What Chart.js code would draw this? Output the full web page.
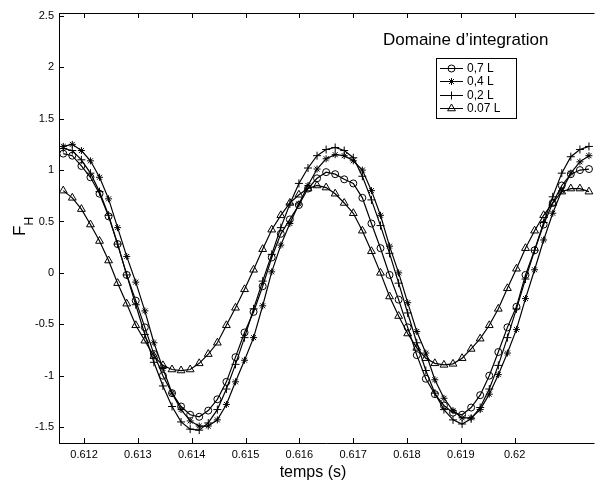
<!DOCTYPE html>
<html>
<head>
<meta charset="utf-8">
<script src="https://cdn.jsdelivr.net/npm/chart.js@4"></script>
<style>
  html, body { margin: 0; padding: 0; background: #fff; }
  canvas { display: block; }
</style>
</head>
<body>
<canvas id="myChart" width="600" height="482"></canvas>
<script>
// sample times (s)
const times = [
  0.611614, 0.611782, 0.611951, 0.612119, 0.612288, 0.612456, 0.612624, 0.612793, 0.612961, 0.613130,
  0.613298, 0.613466, 0.613635, 0.613803, 0.613972, 0.614140, 0.614308, 0.614477, 0.614645, 0.614814,
  0.614982, 0.615150, 0.615319, 0.615487, 0.615656, 0.615824, 0.615992, 0.616161, 0.616329, 0.616498,
  0.616666, 0.616834, 0.617003, 0.617171, 0.617340, 0.617508, 0.617676, 0.617845, 0.618013, 0.618182,
  0.618350, 0.618518, 0.618687, 0.618855, 0.619024, 0.619192, 0.619360, 0.619529, 0.619697, 0.619866,
  0.620034, 0.620202, 0.620371, 0.620539, 0.620708, 0.620876, 0.621044, 0.621213, 0.621381,
]

const seriesLabels = ['0,7 L', '0,4 L', '0,2 L', '0.07 L']

// F_H for each domain size
const fh07 = [
  1.16, 1.14, 1.04, 0.93, 0.77, 0.55, 0.28, -0.02, -0.27, -0.53,
  -0.79, -1.00, -1.17, -1.30, -1.38, -1.40, -1.34, -1.23, -1.06, -0.82,
  -0.58, -0.38, -0.13, 0.15, 0.38, 0.52, 0.66, 0.82, 0.92, 0.98,
  0.96, 0.91, 0.87, 0.73, 0.48, 0.24, -0.02, -0.26, -0.53, -0.80,
  -1.03, -1.18, -1.29, -1.36, -1.38, -1.31, -1.19, -1.00, -0.77, -0.53,
  -0.33, -0.02, 0.22, 0.47, 0.68, 0.85, 0.96, 1.00, 1.01,
]
const fh04 = [
  1.23, 1.25, 1.19, 1.09, 0.93, 0.72, 0.44, 0.16, -0.09, -0.37,
  -0.68, -0.93, -1.17, -1.33, -1.44, -1.49, -1.49, -1.43, -1.28, -1.06,
  -0.85, -0.63, -0.32, 0.01, 0.27, 0.48, 0.67, 0.85, 1.01, 1.11,
  1.15, 1.14, 1.09, 1.00, 0.80, 0.56, 0.26, 0.00, -0.29, -0.57,
  -0.78, -1.04, -1.22, -1.34, -1.41, -1.41, -1.33, -1.18, -0.99, -0.78,
  -0.55, -0.25, 0.03, 0.32, 0.58, 0.80, 0.97, 1.08, 1.14,
]
const fh02 = [
  1.21, 1.19, 1.10, 0.97, 0.79, 0.56, 0.28, -0.02, -0.31, -0.60,
  -0.87, -1.10, -1.30, -1.45, -1.52, -1.53, -1.46, -1.33, -1.13, -0.89,
  -0.63, -0.35, -0.08, 0.18, 0.44, 0.67, 0.87, 1.02, 1.14, 1.20,
  1.22, 1.19, 1.12, 0.94, 0.71, 0.46, 0.19, -0.10, -0.39, -0.68,
  -0.95, -1.17, -1.33, -1.43, -1.47, -1.42, -1.31, -1.13, -0.90, -0.63,
  -0.35, -0.06, 0.22, 0.49, 0.74, 0.97, 1.13, 1.20, 1.23,
]
const fh007 = [
  0.80, 0.73, 0.62, 0.47, 0.31, 0.12, -0.10, -0.30, -0.51, -0.66,
  -0.81, -0.90, -0.94, -0.95, -0.94, -0.88, -0.79, -0.68, -0.51, -0.34,
  -0.16, 0.03, 0.23, 0.42, 0.56, 0.68, 0.76, 0.82, 0.85, 0.83,
  0.77, 0.68, 0.58, 0.41, 0.21, 0.00, -0.23, -0.42, -0.59, -0.73,
  -0.83, -0.88, -0.895, -0.885, -0.83, -0.74, -0.64, -0.51, -0.35, -0.15,
  0.04, 0.24, 0.41, 0.56, 0.68, 0.79, 0.82, 0.82, 0.79,
]

const xTicks = [0.612, 0.613, 0.614, 0.615, 0.616, 0.617, 0.618, 0.619, 0.620]
const xTickLabels = ['0.612', '0.613', '0.614', '0.615', '0.616', '0.617', '0.618', '0.619', '0.62']
const yTicks = [-1.5, -1, -0.5, 0, 0.5, 1, 1.5, 2, 2.5]
const yTickLabels = ['-1.5', '-1', '-0.5', '0', '0.5', '1', '1.5', '2', '2.5']

const FONT = "'Liberation Sans', Arial, sans-serif"
const markers = ['circle', 'star', 'cross', 'triangle']
const radii = [3.5, 3.5, 4, 4.5]

const series = [fh07, fh04, fh02, fh007]
const datasets = series.map((vals, i) => ({
  label: seriesLabels[i],
  data: vals.map((v, j) => ({ x: times[j], y: v })),
  borderColor: '#000',
  borderWidth: 1.2,
  pointStyle: markers[i],
  pointRadius: radii[i],
  pointBorderWidth: 1,
  pointBorderColor: '#000',
  pointBackgroundColor: 'rgba(0,0,0,0)',
  tension: 0,
}))

const decorations = {
  id: 'decorations',
  afterDraw(chart) {
    const { ctx, chartArea: a, scales: { x, y } } = chart
    ctx.save()
    ctx.strokeStyle = '#000'
    ctx.fillStyle = '#000'
    ctx.lineWidth = 1
    // frame (right side is cut off)
    ctx.beginPath()
    ctx.moveTo(a.left + 0.5, a.top + 0.5)
    ctx.lineTo(a.right, a.top + 0.5)
    ctx.moveTo(a.left + 0.5, a.top)
    ctx.lineTo(a.left + 0.5, a.bottom + 0.5)
    ctx.moveTo(a.left, a.bottom + 0.5)
    ctx.lineTo(a.right, a.bottom + 0.5)
    // inward ticks
    x.ticks.forEach(t => {
      const px = Math.round(x.getPixelForValue(t.value)) + 0.5
      ctx.moveTo(px, a.bottom)
      ctx.lineTo(px, a.bottom - 5)
      ctx.moveTo(px, a.top)
      ctx.lineTo(px, a.top + 5)
    })
    y.ticks.forEach(t => {
      const py = Math.round(y.getPixelForValue(t.value)) + 0.5
      ctx.moveTo(a.left, py)
      ctx.lineTo(a.left + 5, py)
    })
    ctx.stroke()

    // axis titles
    ctx.font = '16px ' + FONT
    ctx.textAlign = 'center'
    ctx.textBaseline = 'alphabetic'
    ctx.fillText('temps (s)', 313, 477)

    ctx.save()
    ctx.translate(25, 236)
    ctx.rotate(-Math.PI / 2)
    ctx.textAlign = 'left'
    ctx.font = '17px ' + FONT
    ctx.fillText('F', 0, 0)
    const w = ctx.measureText('F').width
    ctx.font = '12px ' + FONT
    ctx.fillText('H', w, 8)
    ctx.restore()

    // legend title
    ctx.font = '17px ' + FONT
    ctx.textAlign = 'left'
    ctx.fillText('Domaine d\u2019integration', 383, 45)

    // legend box
    ctx.strokeRect(436.5, 58.5, 80, 60)
    ctx.font = '12px ' + FONT
    ctx.textBaseline = 'middle'
    chart.data.datasets.forEach((ds, i) => {
      const ly = Math.round(67.5 + i * 13.6) + 0.5
      ctx.beginPath()
      ctx.moveTo(440, ly)
      ctx.lineTo(463, ly)
      ctx.stroke()
      ctx.fillStyle = 'rgba(0,0,0,0)'
      Chart.helpers.drawPoint(ctx, {
        pointStyle: ds.pointStyle,
        radius: ds.pointRadius,
        rotation: 0,
        borderWidth: 1,
      }, 451.5, ly)
      ctx.fillStyle = '#000'
      ctx.fillText(ds.label, 467, ly)
    })
    ctx.restore()
  },
}

const ctx = document.getElementById('myChart').getContext('2d')
Chart.defaults.color = '#000'
Chart.defaults.font.family = FONT

new Chart(ctx, {
  type: 'line',
  data: { datasets },
  options: {
    responsive: false,
    animation: false,
    devicePixelRatio: 1,
    layout: { padding: { top: 13, right: 0, left: 0, bottom: 0 } },
    plugins: { legend: { display: false }, tooltip: { enabled: false } },
    scales: {
      x: {
        type: 'linear',
        min: 0.611535,
        max: 0.621484,
        grid: { display: false, drawTicks: false },
        border: { display: false },
        afterBuildTicks: s => { s.ticks = xTicks.map(v => ({ value: v })) },
        afterFit: s => { s.height = 39 },
        ticks: {
          padding: 5,
          font: { size: 11 },
          maxRotation: 0,
          autoSkip: false,
          callback: (v, i) => xTickLabels[i],
        },
      },
      y: {
        type: 'linear',
        min: -1.655,
        max: 2.528,
        grid: { display: false, drawTicks: false },
        border: { display: false },
        afterBuildTicks: s => { s.ticks = yTicks.map(v => ({ value: v })) },
        afterFit: s => { s.width = 59 },
        ticks: {
          padding: 5,
          font: { size: 11 },
          autoSkip: false,
          callback: (v, i) => yTickLabels[i],
        },
      },
    },
  },
  plugins: [decorations],
})
</script>
</body>
</html>
